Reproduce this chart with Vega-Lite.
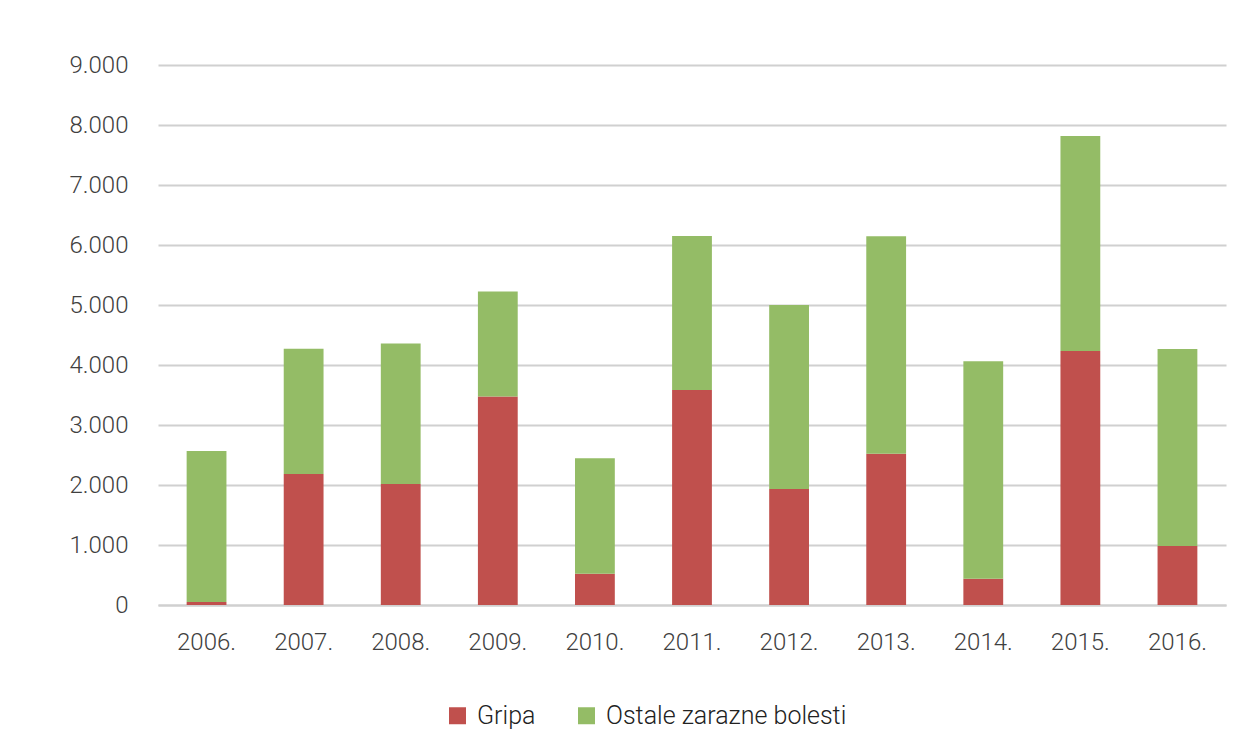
{
  "$schema": "https://vega.github.io/schema/vega-lite/v6.json",
  "width": 1068,
  "height": 540,
  "autosize": {"type": "none"},
  "padding": {"left": 158, "top": 65, "right": 13, "bottom": 149},
  "background": "white",
  "config": {
    "view": {"stroke": null},
    "font": "Roboto",
    "axis": {"labelFont": "Roboto", "labelFontWeight": 300, "labelFontSize": 24, "labelColor": "#404040"},
    "legend": {"labelFont": "Roboto", "labelFontWeight": 300, "labelFontSize": 25, "labelColor": "#222222", "labelLimit": 500}
  },
  "data": {
    "values": [
      {"godina": "2006.", "vrsta": "Gripa", "broj": 50},
      {"godina": "2006.", "vrsta": "Ostale zarazne bolesti", "broj": 2517},
      {"godina": "2007.", "vrsta": "Gripa", "broj": 2183},
      {"godina": "2007.", "vrsta": "Ostale zarazne bolesti", "broj": 2087},
      {"godina": "2008.", "vrsta": "Gripa", "broj": 2017},
      {"godina": "2008.", "vrsta": "Ostale zarazne bolesti", "broj": 2340},
      {"godina": "2009.", "vrsta": "Gripa", "broj": 3475},
      {"godina": "2009.", "vrsta": "Ostale zarazne bolesti", "broj": 1750},
      {"godina": "2010.", "vrsta": "Gripa", "broj": 522},
      {"godina": "2010.", "vrsta": "Ostale zarazne bolesti", "broj": 1922},
      {"godina": "2011.", "vrsta": "Gripa", "broj": 3583},
      {"godina": "2011.", "vrsta": "Ostale zarazne bolesti", "broj": 2565},
      {"godina": "2012.", "vrsta": "Gripa", "broj": 1933},
      {"godina": "2012.", "vrsta": "Ostale zarazne bolesti", "broj": 3067},
      {"godina": "2013.", "vrsta": "Gripa", "broj": 2522},
      {"godina": "2013.", "vrsta": "Ostale zarazne bolesti", "broj": 3622},
      {"godina": "2014.", "vrsta": "Gripa", "broj": 439},
      {"godina": "2014.", "vrsta": "Ostale zarazne bolesti", "broj": 3622},
      {"godina": "2015.", "vrsta": "Gripa", "broj": 4233},
      {"godina": "2015.", "vrsta": "Ostale zarazne bolesti", "broj": 3584},
      {"godina": "2016.", "vrsta": "Gripa", "broj": 983},
      {"godina": "2016.", "vrsta": "Ostale zarazne bolesti", "broj": 3284}
    ]
  },
  "mark": {"type": "bar"},
  "encoding": {
    "x": {
      "field": "godina",
      "type": "nominal",
      "scale": {"paddingInner": 0.59, "paddingOuter": 0.295},
      "axis": {
        "title": null,
        "labelAngle": 0,
        "ticks": false,
        "domain": true,
        "domainColor": "#d0d0d0",
        "domainWidth": 2,
        "labelPadding": 25
      }
    },
    "y": {
      "field": "broj",
      "type": "quantitative",
      "stack": "zero",
      "scale": {"domain": [0, 9000], "nice": false},
      "axis": {
        "title": null,
        "values": [0, 1000, 2000, 3000, 4000, 5000, 6000, 7000, 8000, 9000],
        "format": ",d",
        "labelExpr": "replace(datum.label, ',', '.')",
        "ticks": false,
        "domain": false,
        "gridColor": "#d0d0d0",
        "gridWidth": 2,
        "labelPadding": 30
      }
    },
    "color": {
      "field": "vrsta",
      "type": "nominal",
      "scale": {"domain": ["Gripa", "Ostale zarazne bolesti"], "range": ["#C0504D", "#94BC66"]},
      "legend": {
        "title": null,
        "orient": "none",
        "direction": "horizontal",
        "legendX": 287,
        "legendY": 638,
        "symbolType": "square",
        "symbolSize": 289,
        "symbolStrokeWidth": 0,
        "labelOffset": 7,
        "columnPadding": 38
      }
    },
    "order": {"field": "vrsta", "sort": "ascending"}
  }
}
